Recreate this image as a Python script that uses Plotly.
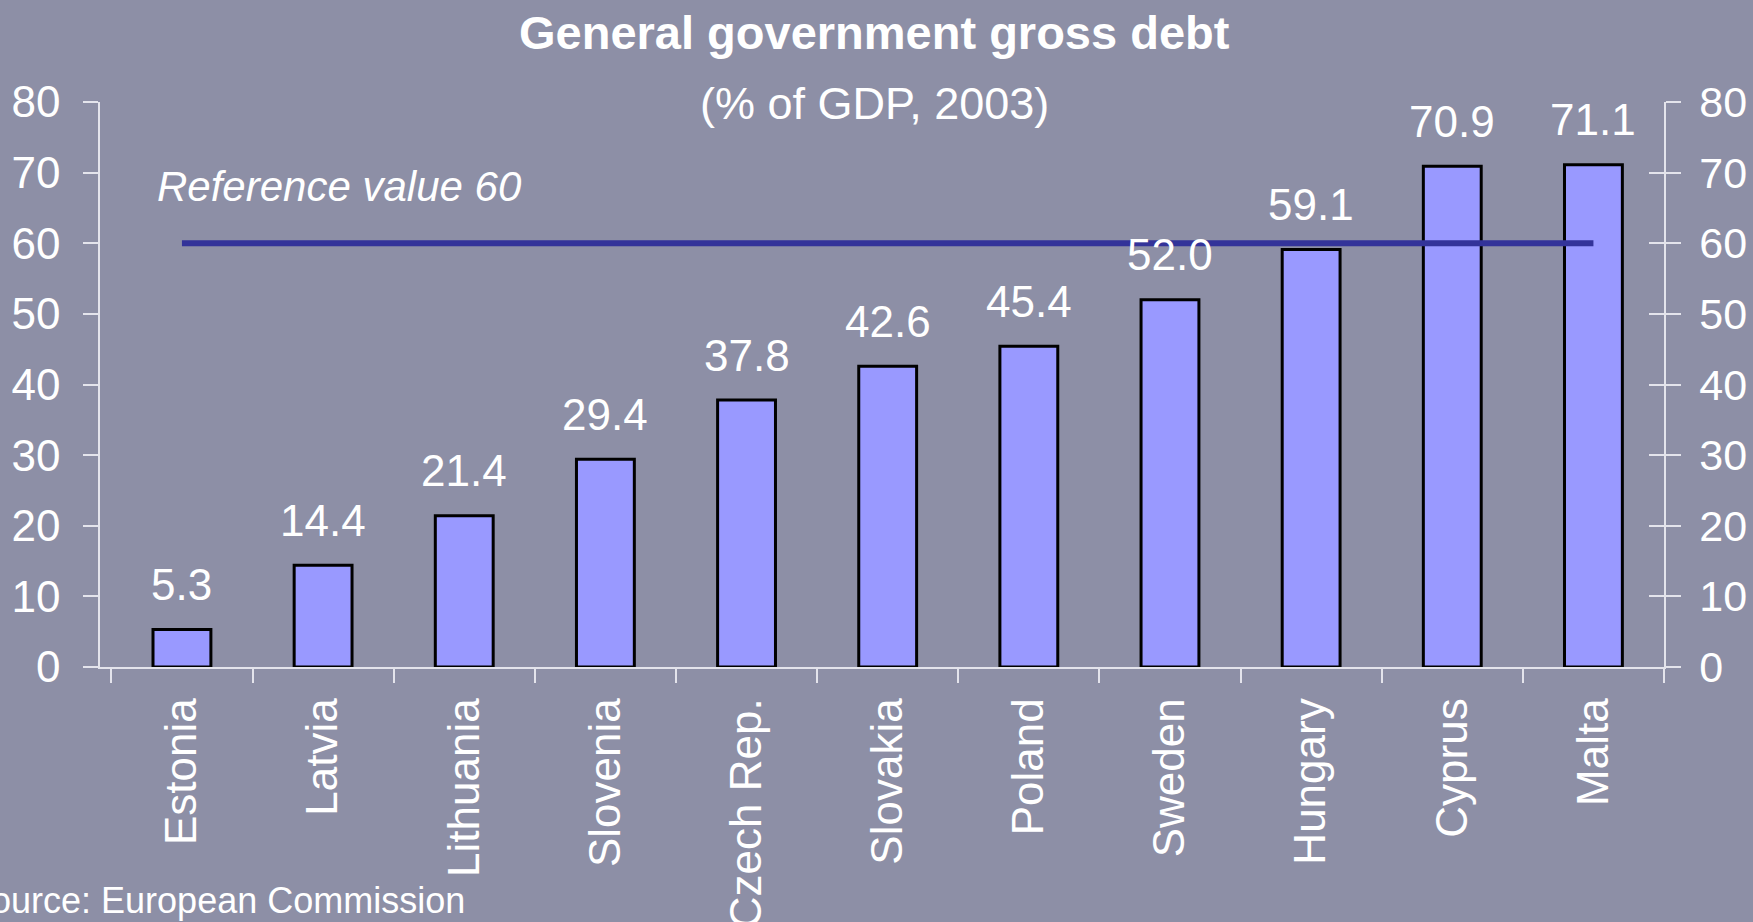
import plotly.graph_objects as go

countries = ["Estonia", "Latvia", "Lithuania", "Slovenia", "Czech Rep.", "Slovakia",
             "Poland", "Sweden", "Hungary", "Cyprus", "Malta"]
debt = [5.3, 14.4, 21.4, 29.4, 37.8, 42.6, 45.4, 52.0, 59.1, 70.9, 71.1]
debt_labels = ["5.3", "14.4", "21.4", "29.4", "37.8", "42.6", "45.4", "52.0", "59.1", "70.9", "71.1"]
reference_value = 60
y_ticks = [0, 10, 20, 30, 40, 50, 60, 70, 80]

FONT = "Liberation Sans, Arial, sans-serif"
BG = "#8d8fa6"
AXIS = "#e4e4ec"

fig = go.Figure()
fig.add_trace(go.Bar(
    x=countries, y=debt,
    marker=dict(color="#9999ff", line=dict(color="black", width=3)),
    showlegend=False, hoverinfo="x+y",
))
fig.add_trace(go.Scatter(
    x=countries, y=[reference_value] * len(countries),
    mode="lines", line=dict(color="#333399", width=6),
    showlegend=False, hoverinfo="skip",
))
# helper traces so the right-hand axes are drawn
for ax in ["y2", "y3"]:
    fig.add_trace(go.Scatter(x=[countries[0]], y=[0], yaxis=ax, mode="markers",
                             marker=dict(opacity=0), showlegend=False, hoverinfo="skip"))

annotations = []
for c, v, t in zip(countries, debt, debt_labels):
    annotations.append(dict(x=c, y=v, text=t, showarrow=False, yanchor="middle",
                            yshift=45, font=dict(family=FONT, size=44, color="white")))
annotations += [
    dict(xref="paper", yref="paper", x=0.4955, y=1.123, text="<b>General government gross debt</b>",
         showarrow=False, xanchor="center", yanchor="middle",
         font=dict(family=FONT, size=47, color="white")),
    dict(xref="paper", yref="paper", x=0.4955, y=0.998, text="(% of GDP, 2003)",
         showarrow=False, xanchor="center", yanchor="middle",
         font=dict(family=FONT, size=45, color="white")),
    dict(xref="paper", yref="y", x=0.035, y=68.0, text="<i>Reference value 60</i>",
         showarrow=False, xanchor="left", yanchor="middle",
         font=dict(family=FONT, size=42, color="white")),
    dict(xref="paper", yref="paper", x=0.2347, y=-0.414, text="Source: European Commission",
         showarrow=False, xanchor="right", yanchor="middle",
         font=dict(family=FONT, size=36, color="white")),
]

yax_common = dict(range=[0, 80], tickvals=y_ticks, showgrid=False, zeroline=False,
                  showline=True, linecolor=AXIS, linewidth=1.5, tickcolor=AXIS,
                  tickwidth=1.5, ticklen=15, fixedrange=True, automargin=False)

fig.update_layout(
    width=1753, height=922,
    margin=dict(l=100, r=89, t=102, b=255, autoexpand=False),
    paper_bgcolor=BG, plot_bgcolor=BG,
    bargap=0.59,
    annotations=annotations,
    xaxis=dict(showgrid=False, showline=True, linecolor=AXIS, linewidth=1.5,
               ticks="outside", tickson="boundaries", ticklen=14, tickcolor=AXIS, tickwidth=1.5,
               tickangle=-90, tickfont=dict(family=FONT, size=44, color="white"),
               ticklabelstandoff=12, automargin=False),
    yaxis=dict(**yax_common, side="left", ticks="outside",
               tickfont=dict(family=FONT, size=44, color="white"), ticklabelstandoff=14),
    yaxis2=dict(**yax_common, side="right", overlaying="y", ticks="outside",
                tickfont=dict(family=FONT, size=43, color="white"), ticklabelstandoff=10),
    yaxis3=dict(**yax_common, side="right", overlaying="y", ticks="inside",
                showticklabels=False),
)

fig.write_html("out.html")
